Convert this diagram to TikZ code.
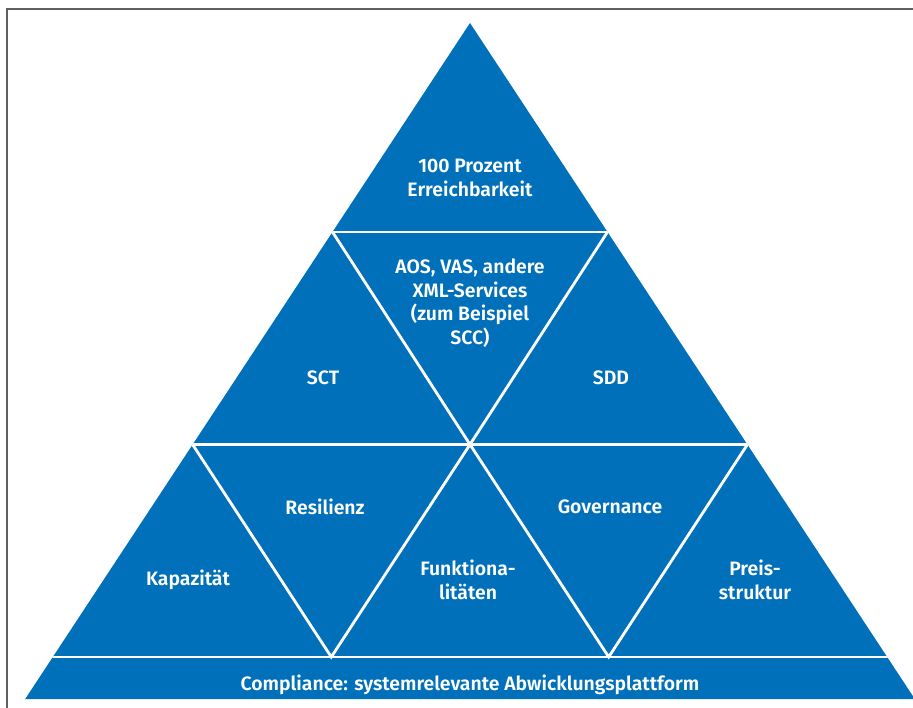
\documentclass[tikz,border=0pt]{standalone}
\usepackage{fontspec}
\setmainfont{Fira Sans}[BoldFont={Fira Sans SemiBold}]
\definecolor{pyrblue}{RGB}{0,112,186}
\definecolor{framegray}{RGB}{96,96,96}
\begin{document}
\begin{tikzpicture}[x=1pt,y=-1pt,
		lbl/.style={text=white,align=center,font=\fontsize{19.4}{23.5}\selectfont\bfseries},
		sep/.style={draw=white,line width=2.8pt}]
	\useasboundingbox (0,0) rectangle (913,708);
	\begin{scope}
		\clip (0,0) rectangle (913,708);
		% frame
		\draw[framegray,line width=1.5pt] (7,708)--(7,9)--(913,9);
		% pyramid
		\coordinate (apex) at (470,23);
		\coordinate (bl) at (25.2,699);
		\coordinate (br) at (914.8,699);
		\fill[pyrblue] (apex)--(br)--(bl)--cycle;
		% lattice points
		\coordinate (a1) at (332.5,232);   \coordinate (a2) at (607.5,232);
		\coordinate (b1) at (192.6,444.5); \coordinate (b2) at (470,444.5); \coordinate (b3) at (747.4,444.5);
		\coordinate (c1) at (331.3,657);   \coordinate (c2) at (608.7,657);
		\begin{scope}
			\clip (apex)--(br)--(bl)--cycle;
			\foreach \y in {232,444.5,657}{
				\draw[sep] (0,\y)--(913,\y);
			}
			\draw[sep] (a1)--(b2)--(a2);
			\draw[sep] (b1)--(c1)--(b2)--(c2)--(b3);
		\end{scope}
	\end{scope}
	% labels
	\node[lbl] (top) at (470,178) {100 Prozent\\Erreichbarkeit};
	\node[lbl] (xml) at (470,303) {AOS, VAS, andere\\XML-Services\\(zum Beispiel\\SCC)};
	\node[lbl] (sct) at (323,378) {SCT};
	\node[lbl] (sdd) at (611,378) {SDD};
	\node[lbl] (res) at (325,507) {Resilienz};
	\node[lbl] (gov) at (610,507) {Governance};
	\node[lbl] (kap) at (188,580) {Kapazität};
	\node[lbl] (fkt) at (468,580) {Funktiona-\\litäten};
	\node[lbl] (prs) at (755,580) {Preis-\\struktur};
	\node[lbl] (cmp) at (470,685) {Compliance: systemrelevante Abwicklungsplattform};
\end{tikzpicture}
\end{document}
